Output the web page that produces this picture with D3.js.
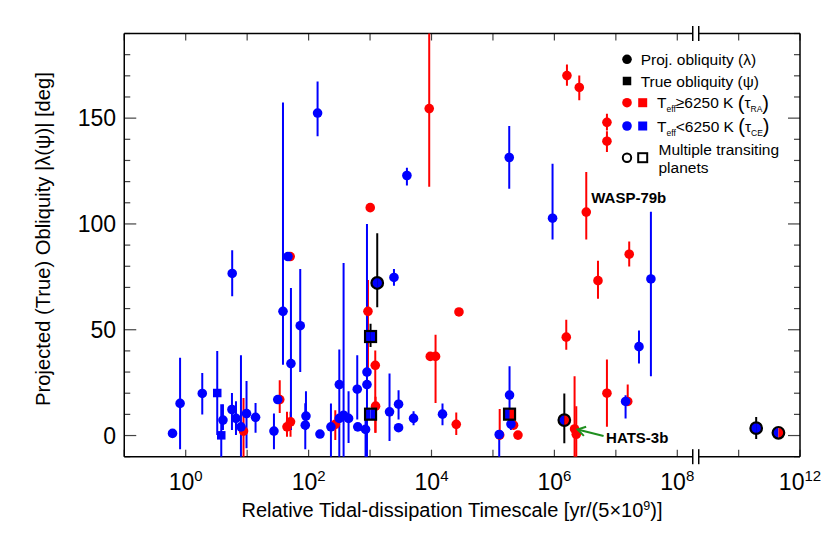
<!DOCTYPE html>
<html>
<head>
<meta charset="utf-8">
<script src="https://cdn.jsdelivr.net/npm/d3@7"></script>
<style>
  body { margin: 0; background: #fff; }
  text { font-family: "Liberation Sans", Arial, Helvetica, sans-serif; fill: #000; }
</style>
</head>
<body>
<svg id="chart" width="831" height="538"></svg>
<script>
// rows: [relative timescale, obliquity (deg), lower, upper]  (no lower/upper = no bar)
const blueProj = [
  [0.61, 1.0], [0.81, 15.2, -6.5, 36.8], [1.86, 19.9, 10.0, 29.6], [4.04, 7.3, 2.6, 14.8],
  [5.66, 12.3, 2.6, 20.1], [6.58, 8.1, 0.2, 16.2], [7.93, 4.1, -12, 37.9], [9.77, 10.4, -6, 25.8],
  [13.7, 8.6, 1.3, 15.4], [27.3, 2.1, -6.5, 10.4], [31.5, 17.0], [51.6, 34.0, 2.6, 69.7],
  [90.6, 9.2, 2.6, 20.9], [88.3, 4.9, -6.5, 15.3], [153, 0.7], [231, 4.1, -12, 15.2],
  [316, 24.1, -12, 40.7], [316, 8.1], [371, 9.6, -12, 81.5], [447, 8.1, -3.5, 20.9],
  [619, 21.9, 7.6, 37.9], [631, 4.1], [845, 2.9, -12, 12], [891, 30.0, -12, 100],
  [891, 24.1], [2075, 11.2, -2.6, 29.3], [2911, 14.8, 7.6, 21.4], [2911, 3.7],
  [5105, 8.1, 4.9, 11.5], [15100, 10.1, 4.9, 15.2], [5.71, 76.6, 65.8, 87.6],
  [38.3, 58.7, 33.5, 157.4], [46.1, 84.6], [73.1, 51.9, 30.0, 78.7], [140, 152.4, 141.4, 167.3],
  [2450, 74.7, 70.8, 78.7], [3980, 122.9, 118.2, 126.5], [126500, 0.5, -12, 2.6],
  [186200, 19.1, 4.1, 32.8], [196300, 5.4, 2.6, 8.8], [184100, 131.4, 116.6, 146.3],
  [933000, 102.7, 92.6, 128.4], [1.44e7, 16.1, 8.1, 19], [2.38e7, 42.0, 34.0, 49.6],
  [3.72e7, 74.0, 28.0, 105.8]
];
const blueTrue = [[3.26, 20.1, 0.2, 39.9], [3.79, 0.1, -12, 14.8]];
const redProj = [
  [8.73, 2.1, -12, 17.8], [33.9, 17.0, 10.6, 26.1], [44.5, 4.1, -0.6, 11.2], [50.8, 6.5, -0.6, 11.2],
  [50.1, 84.6], [272, 5.3, -2.1, 12], [925, 58.7, 29.3, 73.5], [1007, 107.7],
  [1216, 33.2, 1.3, 40.2], [1230, 13.9, 1.3, 18.3], [9550, 37.4, 36.4, 38.4], [11640, 37.4, 15.4, 47.6],
  [9180, 154.5, 117.6, 200], [25290, 5.3, 0.2, 10.9], [27990, 58.4], [128800, 0.2, -2, 12.5],
  [216300, 4.9], [255300, 0.2], [1.56e6, 46.5, 40.6, 54.7], [2.13e6, 3.1, -12, 28.0],
  [2.27e6, 0.6, -12, 13.9], [1.60e6, 170.1, 165.3, 175.4], [2.54e6, 164.5, 158.4, 170.1],
  [3.30e6, 105.6, 92.6, 124.5], [5.12e6, 73.2, 64.6, 82.6], [7.16e6, 20.0, 4.1, 35.9],
  [7.16e6, 148.0, 144.1, 152.1], [7.16e6, 139.1, 134.0, 143.8], [1.65e7, 85.7, 79.9, 91.7],
  [1.56e7, 16.1, 15.3, 24.1]
];
// multiple transiting systems; last field: 1 = mixed (half blue / half red)
const multiCircles = [[1309, 72.1, 60.6, 95.6, 0], [1.45e6, 7.3, -3.7, 19.9, 1],
                      [1.93e11, 3.5, -1.6, 8.8, 0], [4.45e11, 1.3, null, null, 1]];
const multiSquares = [[1019, 46.8, 41.8, 52.8, 0], [1019, 10.1, null, null, 0], [186200, 10.1, null, null, 1]];

const wasp79 = [3.30e6, 105.6];
const hats3 = [2.13e6, 3.1];

const xLabelExp = [0, 2, 4, 6, 8, 12];
const xTickExp = [-1, 0, 1, 2, 3, 4, 5, 6, 7, 8, 11, 12];
const yLabels = [0, 50, 100, 150];

const BLUE = "#0000ff", RED = "#ff0000";

const svg = d3.select("#chart");
const pLeft = 124.25, pRight = 800, pTop = 33.5, pBottom = 456.7;
const breakLo = 10 ** 8.3, breakHi = 10 ** 10.3;

const xLeft = d3.scaleLog().domain([0.1, breakLo]).range([pLeft, pLeft + 9.3 * 61.45]);
const xRight = d3.scaleLog().domain([breakHi, 1e12]).range([xLeft(breakLo), pRight]);
const X = t => t <= breakLo ? xLeft(t) : xRight(t);
const y = d3.scaleLinear().domain([-10, 190]).range([pBottom, pTop]);
const xb = xLeft(breakLo);

svg.append("clipPath").attr("id", "plot")
  .append("rect").attr("x", pLeft).attr("y", pTop).attr("width", pRight - pLeft).attr("height", pBottom - pTop);

// ticks
let ticks = svg.append("g").attr("stroke", "#444").attr("stroke-width", 1.2);
d3.range(-10, 191, 10).forEach(v => {
  let len = v % 50 === 0 ? 12 : 6;
  ticks.append("line").attr("x1", pLeft).attr("x2", pLeft + len).attr("y1", y(v)).attr("y2", y(v));
  ticks.append("line").attr("x1", pRight - len).attr("x2", pRight).attr("y1", y(v)).attr("y2", y(v));
});
xTickExp.forEach(e => {
  let px = X(10 ** e);
  ticks.append("line").attr("x1", px).attr("x2", px).attr("y1", pBottom).attr("y2", pBottom - 7);
  ticks.append("line").attr("x1", px).attr("x2", px).attr("y1", pTop).attr("y2", pTop + 7);
});

// frame with axis break
let frame = svg.append("g").attr("stroke", "#000").attr("stroke-width", 1.5).attr("fill", "none");
frame.append("line").attr("x1", pLeft).attr("x2", pLeft).attr("y1", pTop).attr("y2", pBottom);
frame.append("line").attr("x1", pRight).attr("x2", pRight).attr("y1", pTop).attr("y2", pBottom);
[pTop, pBottom].forEach(yy => {
  frame.append("line").attr("x1", pLeft).attr("x2", xb - 3).attr("y1", yy).attr("y2", yy);
  frame.append("line").attr("x1", xb + 3).attr("x2", pRight).attr("y1", yy).attr("y2", yy);
  frame.append("line").attr("x1", xb - 3).attr("x2", xb - 3).attr("y1", yy - 7.5).attr("y2", yy + 7.5);
  frame.append("line").attr("x1", xb + 3).attr("x2", xb + 3).attr("y1", yy - 7.5).attr("y2", yy + 7.5);
});

// tick labels
yLabels.forEach(v => {
  svg.append("text").attr("x", 116).attr("y", y(v)).attr("dy", "0.36em")
    .attr("text-anchor", "end").attr("font-size", 23).text(v);
});
xLabelExp.forEach(e => {
  let t = svg.append("text").attr("x", X(10 ** e)).attr("y", 489.5)
    .attr("text-anchor", "middle").attr("font-size", 23);
  t.append("tspan").text("10");
  t.append("tspan").attr("dy", -8.5).attr("font-size", 15).text(e);
});

// axis titles
let xt = svg.append("text").attr("x", 452).attr("y", 516.5).attr("text-anchor", "middle").attr("font-size", 20);
xt.append("tspan").text("Relative Tidal-dissipation Timescale [yr/(5×10");
xt.append("tspan").attr("dy", -7).attr("font-size", 12.5).text("9");
xt.append("tspan").attr("dy", 7).text(")]");
svg.append("text").attr("transform", "translate(49.5 239) rotate(-90)")
  .attr("text-anchor", "middle").attr("font-size", 20.2)
  .text("Projected (True) Obliquity |λ(ψ)| [deg]");

// error bars
let plot = svg.append("g").attr("clip-path", "url(#plot)");
let drawBars = function(rows, color) {
  plot.append("g").selectAll("line")
    .data(rows.filter(d => d[2] != null))
    .join("line")
      .attr("x1", d => X(d[0])).attr("x2", d => X(d[0]))
      .attr("y1", d => y(d[2])).attr("y2", d => y(d[3]))
      .attr("stroke", color).attr("stroke-width", 2);
};
drawBars(redProj, RED);
drawBars(blueProj, BLUE);
drawBars(blueTrue, BLUE);
drawBars(multiCircles, "#000");
drawBars(multiSquares, "#000");

// markers
let dot = function(g, cx, cy, color) {
  g.append("circle").attr("cx", cx).attr("cy", cy).attr("r", 4.8).attr("fill", color);
};
let square = function(g, cx, cy, color, s) {
  g.append("rect").attr("x", cx - s / 2).attr("y", cy - s / 2).attr("width", s).attr("height", s).attr("fill", color);
};
let multiCircle = function(g, cx, cy, split) {
  const arc = d3.arc().innerRadius(0).outerRadius(5.4);
  let m = g.append("g").attr("transform", `translate(${cx} ${cy})`);
  m.append("path").attr("d", arc({startAngle: Math.PI, endAngle: 2 * Math.PI})).attr("fill", BLUE);
  m.append("path").attr("d", arc({startAngle: 0, endAngle: Math.PI})).attr("fill", split ? RED : BLUE);
  m.append("circle").attr("r", 5.8).attr("fill", "none").attr("stroke", "#000").attr("stroke-width", 2.2);
};
let multiSquare = function(g, cx, cy, split) {
  let s = 10;
  g.append("rect").attr("x", cx - s / 2).attr("y", cy - s / 2).attr("width", s / 2).attr("height", s).attr("fill", BLUE);
  g.append("rect").attr("x", cx).attr("y", cy - s / 2).attr("width", s / 2).attr("height", s).attr("fill", split ? RED : BLUE);
  g.append("rect").attr("x", cx - s / 2 - 0.5).attr("y", cy - s / 2 - 0.5).attr("width", s + 1).attr("height", s + 1)
    .attr("fill", "none").attr("stroke", "#000").attr("stroke-width", 2.2);
};

let marks = plot.append("g");
redProj.forEach(d => dot(marks, X(d[0]), y(d[1]), RED));
blueProj.forEach(d => dot(marks, X(d[0]), y(d[1]), BLUE));
blueTrue.forEach(d => square(marks, X(d[0]), y(d[1]), BLUE, 8.5));
multiCircles.forEach(d => multiCircle(marks, X(d[0]), y(d[1]), d[4]));
multiSquares.forEach(d => multiSquare(marks, X(d[0]), y(d[1]), d[4]));

// annotations
svg.append("text").attr("x", X(wasp79[0]) + 5).attr("y", y(wasp79[1]) - 9)
  .attr("font-size", 15).attr("font-weight", "bold").text("WASP-79b");
let tipX = X(hats3[0]) + 3, tipY = y(hats3[1]) + 0.5;
let tailX = tipX + 26, tailY = tipY + 6.5;
let ang = Math.atan2(tipY - tailY, tipX - tailX);
let wing = a => [tipX - 9 * Math.cos(ang + a), tipY - 9 * Math.sin(ang + a)];
let green = svg.append("g").attr("stroke", "#1f8f1f").attr("stroke-width", 2).attr("fill", "none");
green.append("line").attr("x1", tailX).attr("y1", tailY).attr("x2", tipX).attr("y2", tipY);
green.append("path").attr("d", d3.line()([wing(0.55), [tipX, tipY], wing(-0.55)]));
svg.append("text").attr("x", tailX + 2.5).attr("y", tailY + 7)
  .attr("font-size", 15).attr("font-weight", "bold").text("HATS-3b");

// legend
let lg = svg.append("g");
let lx = 627, lx2 = 642.7, ltx = 657;
dot(lg, lx, 59.3, "#000");
lg.append("text").attr("x", 640.7).attr("y", 64.5).attr("font-size", 15.5).text("Proj. obliquity (λ)");
square(lg, lx, 81, "#000", 8.5);
lg.append("text").attr("x", 640.7).attr("y", 86.7).attr("font-size", 15.5).text("True obliquity (ψ)");

let teffRow = function(cy, color, rel, sub) {
  dot(lg, lx, cy, color);
  square(lg, lx2, cy, color, 9);
  let t = lg.append("text").attr("x", ltx).attr("y", cy + 5.5).attr("font-size", 15.5);
  t.append("tspan").text("T");
  t.append("tspan").attr("dy", 4).attr("font-size", 8.5).text("eff");
  t.append("tspan").attr("dy", -4).text(rel + "6250 K ");
  t.append("tspan").attr("font-size", 20).attr("dy", 1.5).text("(");
  t.append("tspan").attr("dy", -1.5).text("τ");
  t.append("tspan").attr("dy", 4).attr("font-size", 8.5).text(sub);
  t.append("tspan").attr("dy", -2.5).attr("font-size", 20).text(")");
};
teffRow(102.7, RED, "≥", "RA");
teffRow(126, BLUE, "<", "CE");

lg.append("circle").attr("cx", lx).attr("cy", 157.7).attr("r", 4.2)
  .attr("fill", "none").attr("stroke", "#000").attr("stroke-width", 2);
lg.append("rect").attr("x", lx2 - 4.5).attr("y", 153.2).attr("width", 9).attr("height", 9)
  .attr("fill", "none").attr("stroke", "#000").attr("stroke-width", 2);
lg.append("text").attr("x", ltx + 1.5).attr("y", 155).attr("font-size", 15.5).text("Multiple transiting");
lg.append("text").attr("x", ltx + 1.5).attr("y", 173.3).attr("font-size", 15.5).text("planets");
</script>
</body>
</html>
